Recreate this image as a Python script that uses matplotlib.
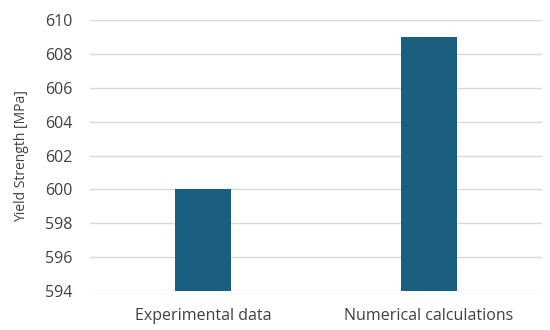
import matplotlib.pyplot as plt

categories = ['Experimental data', 'Numerical calculations']
yield_strength = [600, 609]
y_ticks = [594, 596, 598, 600, 602, 604, 606, 608, 610]

plt.rcParams['font.family'] = ['Open Sans', 'DejaVu Sans']

fig = plt.figure(figsize=(5.5, 3.3), dpi=100)
ax = fig.add_axes([0.164, 0.118, 0.821, 0.821])

x = range(len(categories))
ax.bar(x, yield_strength, width=0.25, color='#1a5e80', zorder=3)

ax.set_xlim(-0.5, 1.5)
ax.set_ylim(594, 610)
ax.set_yticks(y_ticks)
ax.set_xticks(list(x))
ax.set_xticklabels(categories, fontsize=11.5, color='#404040')
ax.tick_params(axis='y', labelsize=11.5, labelcolor='#404040', length=0, pad=13)
ax.tick_params(axis='x', length=0, pad=12)
ax.set_ylabel('Yield Strength [MPa]', fontsize=10, color='#404040', labelpad=11)

ax.grid(axis='y', color='#d9d9d9', linewidth=1, zorder=0)
for s in ax.spines.values():
    s.set_visible(False)

fig.savefig('out.png', dpi=100)
